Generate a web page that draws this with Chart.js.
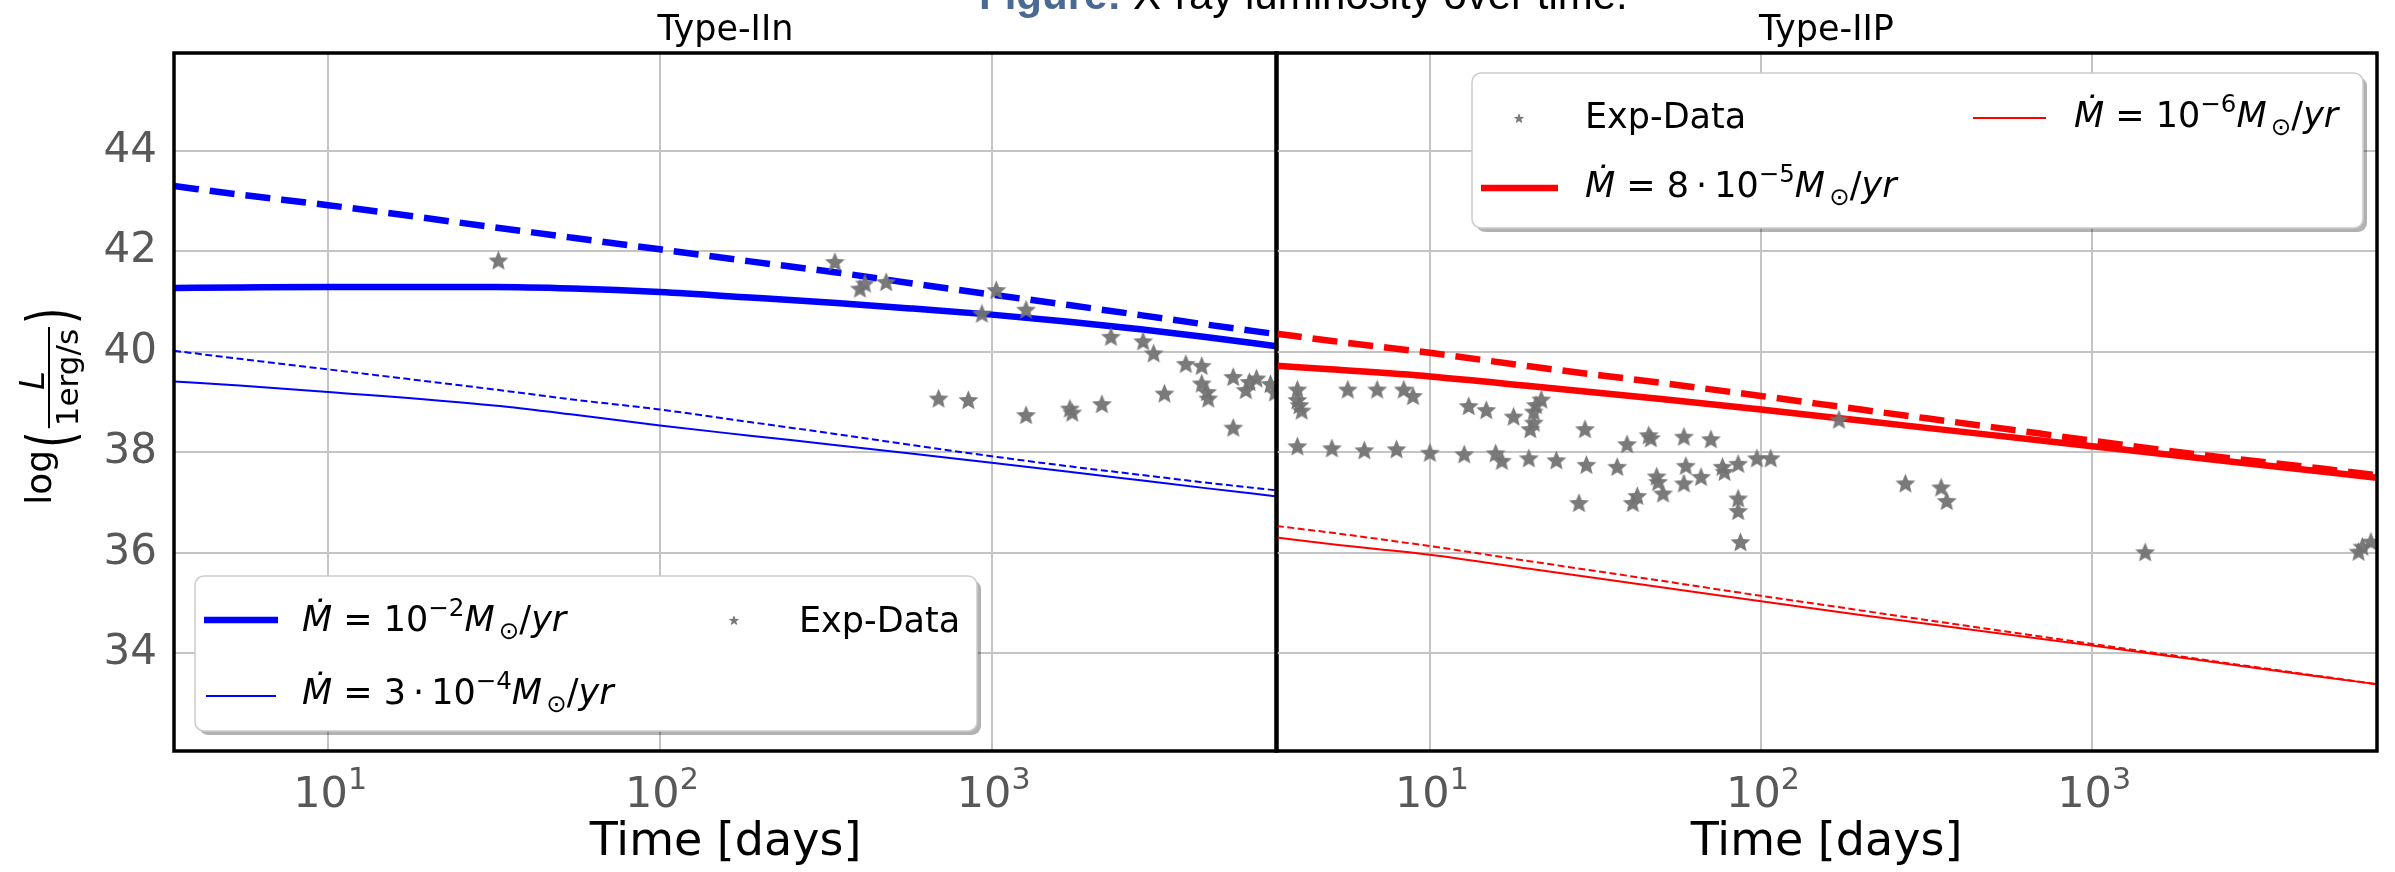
<!DOCTYPE html>
<html><head><meta charset="utf-8">
<script src="https://cdn.jsdelivr.net/npm/chart.js@4.4.0/dist/chart.umd.min.js"></script>
<style>
html,body{margin:0;padding:0;background:#fff;width:2395px;height:872px;overflow:hidden;position:relative;}
canvas{position:absolute;top:0;}
#cL{left:0;}
#cR{left:1260px;}
#cap{position:absolute;left:979px;top:-26px;font:42px "Liberation Sans",Arial,sans-serif;line-height:42px;white-space:nowrap;z-index:5;color:#000;}
#cap b{color:#4a6a94;}
</style></head><body>
<canvas id="cL" width="1300" height="872"></canvas>
<canvas id="cR" width="1135" height="872"></canvas>
<div id="cap"><b>Figure:</b> X-ray luminosity over time.</div>
<script>
// ---------- data ----------
const xTickValues = [10, 100, 1000];
const xTickLabels = ['10^{1}', '10^{2}', '10^{3}'];
const yTickValues = [34, 36, 38, 40, 42, 44];
const panelTitles = ['Type-IIn', 'Type-IIP'];
const xAxisTitle = 'Time [days]';

// Type-IIn model curves
const iinCurveTime = [3.43, 5.4, 10, 31.6, 54.6, 100, 187, 341, 579, 1000, 1710, 2810, 4350, 7250];
const iinHighDashed = [43.30, 43.13, 42.92, 42.48, 42.27, 42.04, 41.80, 41.58, 41.36, 41.14, 40.93, 40.73, 40.55, 40.35];
const iinHighSolid  = [41.27, 41.28, 41.29, 41.29, 41.26, 41.19, 41.08, 40.97, 40.86, 40.74, 40.60, 40.45, 40.30, 40.11];
const iinLowDashed  = [40.02, 39.86, 39.65, 39.25, 39.05, 38.85, 38.60, 38.36, 38.14, 37.92, 37.72, 37.55, 37.40, 37.24];
const iinLowSolid   = [39.41, 39.33, 39.20, 38.93, 38.75, 38.53, 38.33, 38.14, 37.97, 37.79, 37.61, 37.44, 37.29, 37.12];
// Type-IIn observations
const iinObsTime = [32.6, 337, 401, 415, 481, 1033, 935, 1270, 2290, 2862, 3080, 3850, 4300, 5350, 5990, 6290, 6930, 4300, 4460, 4500, 5840, 3320, 692, 851, 1270, 1722, 1750, 2150, 5350, 7150];
const iinObsLum  = [41.83, 41.80, 41.27, 41.37, 41.40, 41.24, 40.77, 40.85, 40.31, 40.22, 39.98, 39.77, 39.73, 39.51, 39.41, 39.48, 39.37, 39.38, 39.21, 39.08, 39.25, 39.18, 39.08, 39.05, 38.75, 38.88, 38.80, 38.97, 38.50, 39.20];

// Type-IIP model curves
const iipCurveTime = [3.45, 5, 10, 20, 50, 100, 200, 500, 1000, 2000, 5000, 7250];
const iipHighDashed = [40.36, 40.22, 39.98, 39.71, 39.38, 39.12, 38.85, 38.50, 38.23, 37.97, 37.67, 37.54];
const iipHighSolid  = [39.72, 39.65, 39.51, 39.32, 39.06, 38.85, 38.63, 38.34, 38.12, 37.90, 37.61, 37.49];
const iipLowDashed  = [36.53, 36.40, 36.13, 35.83, 35.44, 35.14, 34.85, 34.47, 34.18, 33.90, 33.53, 33.38];
const iipLowSolid   = [36.30, 36.17, 35.96, 35.68, 35.31, 35.03, 34.76, 34.41, 34.15, 33.88, 33.52, 33.38];
// Type-IIP observations
const iipObsTime = [3.98, 3.98, 4.04, 4.10, 3.98, 5.65, 6.93, 8.34, 8.89, 5.06, 6.34, 7.93, 10.0, 12.7, 15.8, 16.5, 19.9, 24.1, 13.1, 14.8, 17.9, 21.7, 20.9, 20.6, 20.6, 20.1, 29.4, 29.7, 28.2, 36.8, 39.4, 45.8, 46.5, 41.0, 42.3, 48.4, 48.9, 50.6, 58.5, 59.3, 58.5, 65.9, 70.6, 76.5, 77.6, 85.3, 85.3, 85.3, 86.7, 97.2, 107, 172, 273, 350, 364, 1446, 6380, 6550, 6950];
const iipObsLum  = [39.26, 39.05, 38.95, 38.84, 38.13, 39.26, 39.26, 39.26, 39.13, 38.09, 38.05, 38.07, 38.00, 37.97, 37.99, 37.84, 37.89, 37.85, 38.93, 38.85, 38.72, 39.06, 38.95, 38.82, 38.60, 38.47, 38.47, 37.76, 37.00, 37.72, 38.17, 38.35, 38.29, 37.00, 37.14, 37.53, 37.42, 37.19, 38.32, 37.74, 37.39, 37.52, 38.27, 37.72, 37.62, 37.78, 37.09, 36.84, 36.22, 37.89, 37.89, 38.66, 37.39, 37.31, 37.04, 36.02, 36.03, 36.13, 36.23];

// legend labels (^{..} superscript, _{..} subscript)
const labelObs = 'Exp-Data';
const labelIInHigh = '\u1E40 = 10^{\u22122}M_{\u2299}/yr';
const labelIInLow  = '\u1E40 = 3\u2009\u00B7\u200910^{\u22124}M_{\u2299}/yr';
const labelIIPHigh = '\u1E40 = 8\u2009\u00B7\u200910^{\u22125}M_{\u2299}/yr';
const labelIIPLow  = '\u1E40 = 10^{\u22126}M_{\u2299}/yr';

// ---------- helpers ----------
const FONT = '"DejaVu Sans", sans-serif';
Chart.defaults.font.family = FONT;
const pts = (xs, ys) => xs.map((x, i) => ({x: x, y: ys[i]}));

function makeStar(size, color) {
  const c = document.createElement('canvas');
  c.width = c.height = Math.ceil(size + 2);
  const g = c.getContext('2d');
  const cx = c.width / 2, cy = c.height / 2 + size * 0.06;
  const R = size / 2, r = R * 0.45;
  g.beginPath();
  for (let k = 0; k < 10; k++) {
    const a = -Math.PI / 2 + k * Math.PI / 5;
    const rad = k % 2 ? r : R;
    const px = cx + rad * Math.cos(a), py = cy + rad * Math.sin(a);
    k ? g.lineTo(px, py) : g.moveTo(px, py);
  }
  g.closePath();
  g.fillStyle = color;
  g.fill();
  return c;
}
const starMarker = makeStar(21, 'rgba(115,115,115,0.95)');

function parseRich(label) {
  const segs = [];
  let i = 0;
  while (i < label.length) {
    const ch = label[i];
    if ((ch === '^' || ch === '_') && label[i + 1] === '{') {
      const j = label.indexOf('}', i);
      segs.push({t: label.slice(i + 2, j), mode: ch === '^' ? 'sup' : 'sub'});
      i = j + 1;
    } else {
      let j = i;
      while (j < label.length && !((label[j] === '^' || label[j] === '_') && label[j + 1] === '{')) j++;
      segs.push({t: label.slice(i, j), mode: 'base'});
      i = j;
    }
  }
  return segs;
}

// draws (or only measures) rich text; returns width
function drawRich(ctx, label, x, y, size, color, measureOnly) {
  const isMath = label.indexOf('\u1E40') >= 0;
  ctx.fillStyle = color;
  ctx.textBaseline = 'alphabetic';
  ctx.textAlign = 'left';
  let cx = x;
  let prevItalic = false;
  for (const s of parseRich(label)) {
    const fs = s.mode === 'base' ? size : size * 0.7;
    const dy = s.mode === 'sup' ? -size * 0.42 : (s.mode === 'sub' ? size * 0.22 : 0);
    if (s.mode === 'sub' && prevItalic) cx += size * 0.12;
    const runs = s.t.match(/[A-Za-z\u1E40]+|[^A-Za-z\u1E40]+/g) || [];
    for (const run of runs) {
      const italic = isMath && /[A-Za-z\u1E40]/.test(run[0]);
      ctx.font = (italic ? 'italic ' : '') + fs + 'px ' + FONT;
      if (!measureOnly) ctx.fillText(run, cx, y + dy);
      cx += ctx.measureText(run).width;
      prevItalic = italic;
    }
  }
  return cx - x;
}

// frame (spines)
const framePlugin = {
  id: 'frame',
  afterDatasetsDraw(chart, args, o) {
    const {ctx, chartArea: a} = chart;
    ctx.save();
    ctx.strokeStyle = o.color || '#000';
    ctx.lineWidth = o.width || 3.5;
    ctx.strokeRect(a.left, a.top, a.right - a.left, a.bottom - a.top);
    ctx.restore();
  }
};

// x tick labels with real superscripts, at the scale's tick positions
const xTickPlugin = {
  id: 'xTickLabels',
  afterDraw(chart, args, o) {
    const ctx = chart.ctx, sc = chart.scales.x;
    ctx.save();
    sc.ticks.forEach(t => {
      const i = xTickValues.indexOf(t.value);
      if (i < 0) return;
      const px = sc.getPixelForValue(t.value);
      const w = drawRich(ctx, xTickLabels[i], 0, 0, o.size, o.color, true);
      drawRich(ctx, xTickLabels[i], px - w / 2 + 2, o.baseline, o.size, o.color, false);
    });
    ctx.restore();
  }
};

// legend with math text
const mathLegend = {
  id: 'mathLegend',
  afterDraw(chart, args, o) {
    if (!o.items) return;
    const ctx = chart.ctx;
    const off = o.offsetX || 0;
    const [x1, y1, x2, y2] = o.box;
    ctx.save();
    ctx.beginPath();
    ctx.roundRect(x1 - off + 4, y1 + 4, x2 - x1, y2 - y1, 9);
    ctx.fillStyle = 'rgba(0,0,0,0.3)';
    ctx.fill();
    ctx.beginPath();
    ctx.roundRect(x1 - off, y1, x2 - x1, y2 - y1, 9);
    ctx.fillStyle = '#fff';
    ctx.fill();
    ctx.strokeStyle = '#cccccc';
    ctx.lineWidth = 1.5;
    ctx.stroke();
    for (const it of o.items) {
      const ds = chart.data.datasets[it.ds];
      if (ds.showLine === false) {
        const m = o.markerSize;
        ctx.drawImage(starMarker, it.sx1 - off - m / 2, it.sy - m / 2, m, m);
      } else {
        ctx.beginPath();
        ctx.setLineDash([]);
        ctx.lineCap = 'butt';
        ctx.strokeStyle = ds.borderColor;
        ctx.lineWidth = ds.borderWidth;
        ctx.moveTo(it.sx1 - off, it.sy);
        ctx.lineTo(it.sx2 - off, it.sy);
        ctx.stroke();
      }
      drawRich(ctx, ds.label, it.tx - off, it.ty, o.fontSize, '#000');
    }
    ctx.restore();
  }
};

// rotated y-axis title: log( L / 1erg/s )
const yLabelPlugin = {
  id: 'yLabel',
  afterDraw(chart, args, o) {
    if (!o.display) return;
    const ctx = chart.ctx;
    const a = chart.chartArea;
    const cy = (a.top + a.bottom) / 2 + 3;
    ctx.save();
    ctx.rotate(-Math.PI / 2);
    ctx.fillStyle = '#000';
    ctx.textBaseline = 'alphabetic';
    ctx.textAlign = 'left';
    const fLog = '36px ' + FONT, fPar = '40px ' + FONT, fNum = 'italic 34px ' + FONT, fDen = '31px ' + FONT;
    ctx.font = fLog; const wLog = ctx.measureText('log').width;
    ctx.font = fPar; const wPar = ctx.measureText('(').width + 6;
    ctx.font = fNum; const wNum = ctx.measureText('L').width;
    ctx.font = fDen; const wDen = ctx.measureText('1erg/s').width;
    const wFrac = Math.max(wNum, wDen) + 4;
    const total = wLog + wPar * 2 + wFrac;
    let s = cy + total / 2;
    ctx.font = fLog; ctx.fillText('log', -s, 51); s -= wLog;
    const paren = (ch, pos) => {
      ctx.save(); ctx.font = fPar; ctx.translate(-pos, 73); ctx.scale(1.05, 1.6);
      ctx.fillText(ch, 0, 0); ctx.restore();
    };
    paren('(', s - 2); s -= wPar;
    const fc = s - wFrac / 2;
    ctx.font = fNum; ctx.fillText('L', -(fc + wNum / 2 + 3), 44);
    ctx.font = fDen; ctx.fillText('1erg/s', -(fc + wDen / 2), 78);
    ctx.beginPath(); ctx.lineWidth = 2; ctx.strokeStyle = '#000';
    ctx.moveTo(-s, 49); ctx.lineTo(-(s - wFrac), 49); ctx.stroke();
    s -= wFrac;
    paren(')', s - 3);
    ctx.restore();
  }
};

function xScale() {
  return {
    type: 'logarithmic', min: 3.43, max: 7250,
    afterBuildTicks: s => { s.ticks = xTickValues.map(v => ({value: v})); },
    ticks: {display: false},
    grid: {color: '#c4c4c4', lineWidth: 2, drawTicks: false},
    border: {display: false},
    title: {display: true, text: xAxisTitle, color: '#000', font: {family: FONT, size: 46}, padding: {top: 0, bottom: 1}},
    afterFit: s => { s.height = 121; }
  };
}
function yScale(showLabels, width) {
  return {
    type: 'linear', min: 32.05, max: 45.95,
    afterBuildTicks: s => { s.ticks = yTickValues.map(v => ({value: v})); },
    ticks: {display: showLabels, font: {family: FONT, size: 42}, color: '#585858', padding: 17},
    grid: {color: '#c4c4c4', lineWidth: 2, drawTicks: false},
    border: {display: false},
    afterFit: s => { s.width = width; }
  };
}
const lineDs = (label, data, color, width, dash) => ({
  type: 'line', label: label, data: data, borderColor: color, borderWidth: width,
  borderDash: dash, pointRadius: 0, fill: false, cubicInterpolationMode: 'monotone', order: 2, clip: 0
});
const obsDs = (data) => ({
  type: 'scatter', label: labelObs, data: data, showLine: false,
  pointStyle: starMarker, pointRadius: 10, order: 0, clip: 0
});

function makePanel(id, title, datasets, yLabels, yWidth, padLeft, padRight, legend, showYTitle) {
  return new Chart(document.getElementById(id), {
    data: {datasets: datasets},
    options: {
      responsive: false, animation: false, events: [],
      layout: {padding: {left: padLeft, right: padRight, top: 0, bottom: 0}},
      scales: {x: xScale(), y: yScale(yLabels, yWidth)},
      plugins: {
        legend: {display: false}, tooltip: {enabled: false},
        title: {display: true, text: title, fullSize: false, color: '#000',
                font: {family: FONT, size: 35, weight: 'normal'}, padding: {top: 10, bottom: 1}},
        frame: {color: '#000', width: 3.5},
        xTickLabels: {size: 43, color: '#585858', baseline: 807},
        mathLegend: legend,
        yLabel: {display: showYTitle}
      }
    },
    plugins: [framePlugin, xTickPlugin, mathLegend, yLabelPlugin]
  });
}

makePanel('cL', panelTitles[0], [
  obsDs(pts(iinObsTime, iinObsLum)),
  lineDs(labelIInHigh, pts(iinCurveTime, iinHighSolid), '#0000ff', 6.5, []),
  lineDs(labelIInLow, pts(iinCurveTime, iinLowSolid), '#0000ff', 2, []),
  lineDs('', pts(iinCurveTime, iinHighDashed), '#0000ff', 6.5, [25, 11]),
  lineDs('', pts(iinCurveTime, iinLowDashed), '#0000ff', 2, [7, 3.5])
], true, 174, 0, 23, {
  offsetX: 0, box: [195, 576, 977, 731], fontSize: 35, markerSize: 12,
  items: [
    {ds: 1, sx1: 204, sx2: 278, sy: 620, tx: 302, ty: 631},
    {ds: 2, sx1: 206, sx2: 276, sy: 696, tx: 302, ty: 704},
    {ds: 0, sx1: 734, sy: 620, tx: 799, ty: 632}
  ]
}, true);

makePanel('cR', panelTitles[1], [
  obsDs(pts(iipObsTime, iipObsLum)),
  lineDs(labelIIPHigh, pts(iipCurveTime, iipHighSolid), '#ff0000', 6.5, []),
  lineDs(labelIIPLow, pts(iipCurveTime, iipLowSolid), '#ff0000', 2, []),
  lineDs('', pts(iipCurveTime, iipHighDashed), '#ff0000', 6.5, [25, 11]),
  lineDs('', pts(iipCurveTime, iipLowDashed), '#ff0000', 2, [7, 3.5])
], false, 16, 0, 18, {
  offsetX: 1260, box: [1472, 73, 2363, 228], fontSize: 35, markerSize: 12,
  items: [
    {ds: 0, sx1: 1519, sy: 118, tx: 1585, ty: 128},
    {ds: 2, sx1: 1973, sx2: 2046, sy: 118, tx: 2074, ty: 127},
    {ds: 1, sx1: 1481, sx2: 1558, sy: 188, tx: 1585, ty: 197}
  ]
}, false);
</script>
</body></html>
